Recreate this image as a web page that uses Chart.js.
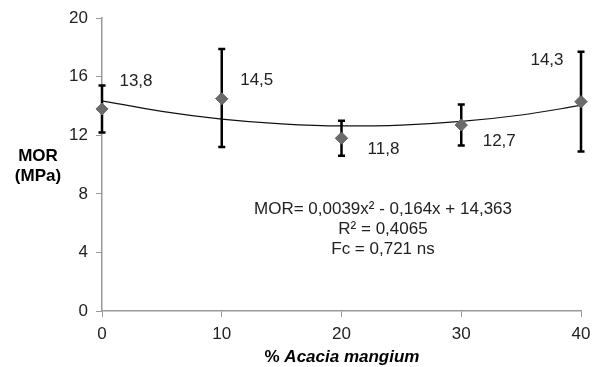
<!DOCTYPE html>
<html lang="pt">
  <head>
    <meta charset="UTF-8" />
    <title>MOR x % Acacia mangium</title>
    <script src="https://cdn.jsdelivr.net/npm/chart.js"></script>
    <style>
      html, body { margin: 0; padding: 0; background: #fff; }
      #wrap { width: 598px; height: 367px; }
    </style>
  </head>
  <body>
    <div id="wrap"><canvas id="mor"></canvas></div>

    <script>
      // dados
      const acacia = [0, 10, 20, 30, 40];
      const morMedia = [13.8, 14.5, 11.8, 12.7, 14.3];
      const erroSup = [15.4, 17.9, 13.0, 14.1, 17.7];
      const erroInf = [12.2, 11.2, 10.6, 11.3, 10.9];
      const rotulos = ["13,8", "14,5", "11,8", "12,7", "14,3"];

      // linha de tendência (valores estimados da curva)
      const tendX = [0, 5, 10, 15, 20, 25, 30, 35, 40];
      const tendY = [14.36, 13.64, 13.11, 12.78, 12.64, 12.7, 12.95, 13.39, 14.04];

      const yTicks = [0, 4, 8, 12, 16, 20];
      const equacao = ["MOR= 0,0039x² - 0,164x + 14,363", "R² = 0,4065", "Fc = 0,721 ns"];

      // deslocamento de cada rótulo em relação ao ponto
      const rotuloDx = [34, 35, 42, 38, -34];
      const rotuloDy = [-28, -18, 11, 16, -41];

      const fonte = "'Liberation Sans', Arial, sans-serif";

      const pontos = acacia.map((x, i) => ({ x, y: morMedia[i] }));
      const tendencia = tendX.map((x, i) => ({ x, y: tendY[i] }));

      const extras = {
        id: "extras",
        afterDatasetsDraw(chart) {
          const { ctx, scales } = chart;
          const sx = scales.x, sy = scales.y;
          ctx.save();
          // barras de erro
          ctx.strokeStyle = "#000";
          ctx.lineWidth = 2.5;
          acacia.forEach((x, i) => {
            const px = sx.getPixelForValue(x);
            const t = sy.getPixelForValue(erroSup[i]);
            const b = sy.getPixelForValue(erroInf[i]);
            ctx.beginPath();
            ctx.moveTo(px, t); ctx.lineTo(px, b);
            ctx.moveTo(px - 3.5, t); ctx.lineTo(px + 3.5, t);
            ctx.moveTo(px - 3.5, b); ctx.lineTo(px + 3.5, b);
            ctx.stroke();
          });
          // redesenha os marcadores por cima
          chart.getDatasetMeta(0).data.forEach((el) => el.draw(ctx));

          // rótulos de valores
          ctx.fillStyle = "#222";
          ctx.font = "17px " + fonte;
          ctx.textAlign = "center";
          ctx.textBaseline = "middle";
          acacia.forEach((x, i) => {
            ctx.fillText(rotulos[i], sx.getPixelForValue(x) + rotuloDx[i], sy.getPixelForValue(morMedia[i]) + rotuloDy[i]);
          });

          // equação
          ctx.font = "17px " + fonte;
          equacao.forEach((t, i) => ctx.fillText(t, 383, 209 + i * 20));

          // título do eixo y
          ctx.fillStyle = "#000";
          ctx.font = "bold 17px " + fonte;
          ctx.fillText("MOR", 38, 156);
          ctx.fillText("(MPa)", 38, 176);

          // título do eixo x
          ctx.textAlign = "left";
          const a = "% ", b = "Acacia mangium";
          ctx.font = "bold 17px " + fonte;
          const wa = ctx.measureText(a).width;
          ctx.font = "italic bold 17px " + fonte;
          const wb = ctx.measureText(b).width;
          const x0 = 342 - (wa + wb) / 2;
          ctx.font = "bold 17px " + fonte;
          ctx.fillText(a, x0, 357);
          ctx.font = "italic bold 17px " + fonte;
          ctx.fillText(b, x0 + wa, 357);
          ctx.restore();
        },
      };

      new Chart(document.getElementById("mor"), {
        type: "scatter",
        data: {
          datasets: [
            {
              label: "MOR",
              data: pontos,
              pointStyle: "rectRot",
              pointRadius: 6,
              pointBackgroundColor: "#6b6b6b",
              pointBorderColor: "#6b6b6b",
              showLine: false,
              clip: false,
            },
            {
              label: "Tendência",
              data: tendencia,
              showLine: true,
              borderColor: "#111",
              borderWidth: 1.2,
              pointRadius: 0,
              tension: 0.4,
              cubicInterpolationMode: "monotone",
            },
          ],
        },
        options: {
          responsive: true,
          maintainAspectRatio: false,
          animation: false,
          layout: { padding: { top: 17, right: 17, left: 0, bottom: 0 } },
          plugins: { legend: { display: false }, tooltip: { enabled: false } },
          scales: {
            x: {
              type: "linear",
              min: 0,
              max: 40,
              ticks: { stepSize: 10, color: "#222", font: { size: 17, family: fonte }, padding: 7 },
              grid: { drawOnChartArea: false, color: "#999", tickLength: 6 },
              border: { color: "#999", width: 1.5 },
              afterFit(s) { s.height = 56; },
            },
            y: {
              min: 0,
              max: 20,
              afterBuildTicks(s) { s.ticks = yTicks.map((v) => ({ value: v })); },
              ticks: { color: "#222", font: { size: 17, family: fonte }, padding: 8 },
              grid: { drawOnChartArea: false, color: "#999", tickLength: 6 },
              border: { color: "#999", width: 1.5 },
              afterFit(s) { s.width = 102; },
            },
          },
        },
        plugins: [extras],
      });
    </script>
  </body>
</html>
